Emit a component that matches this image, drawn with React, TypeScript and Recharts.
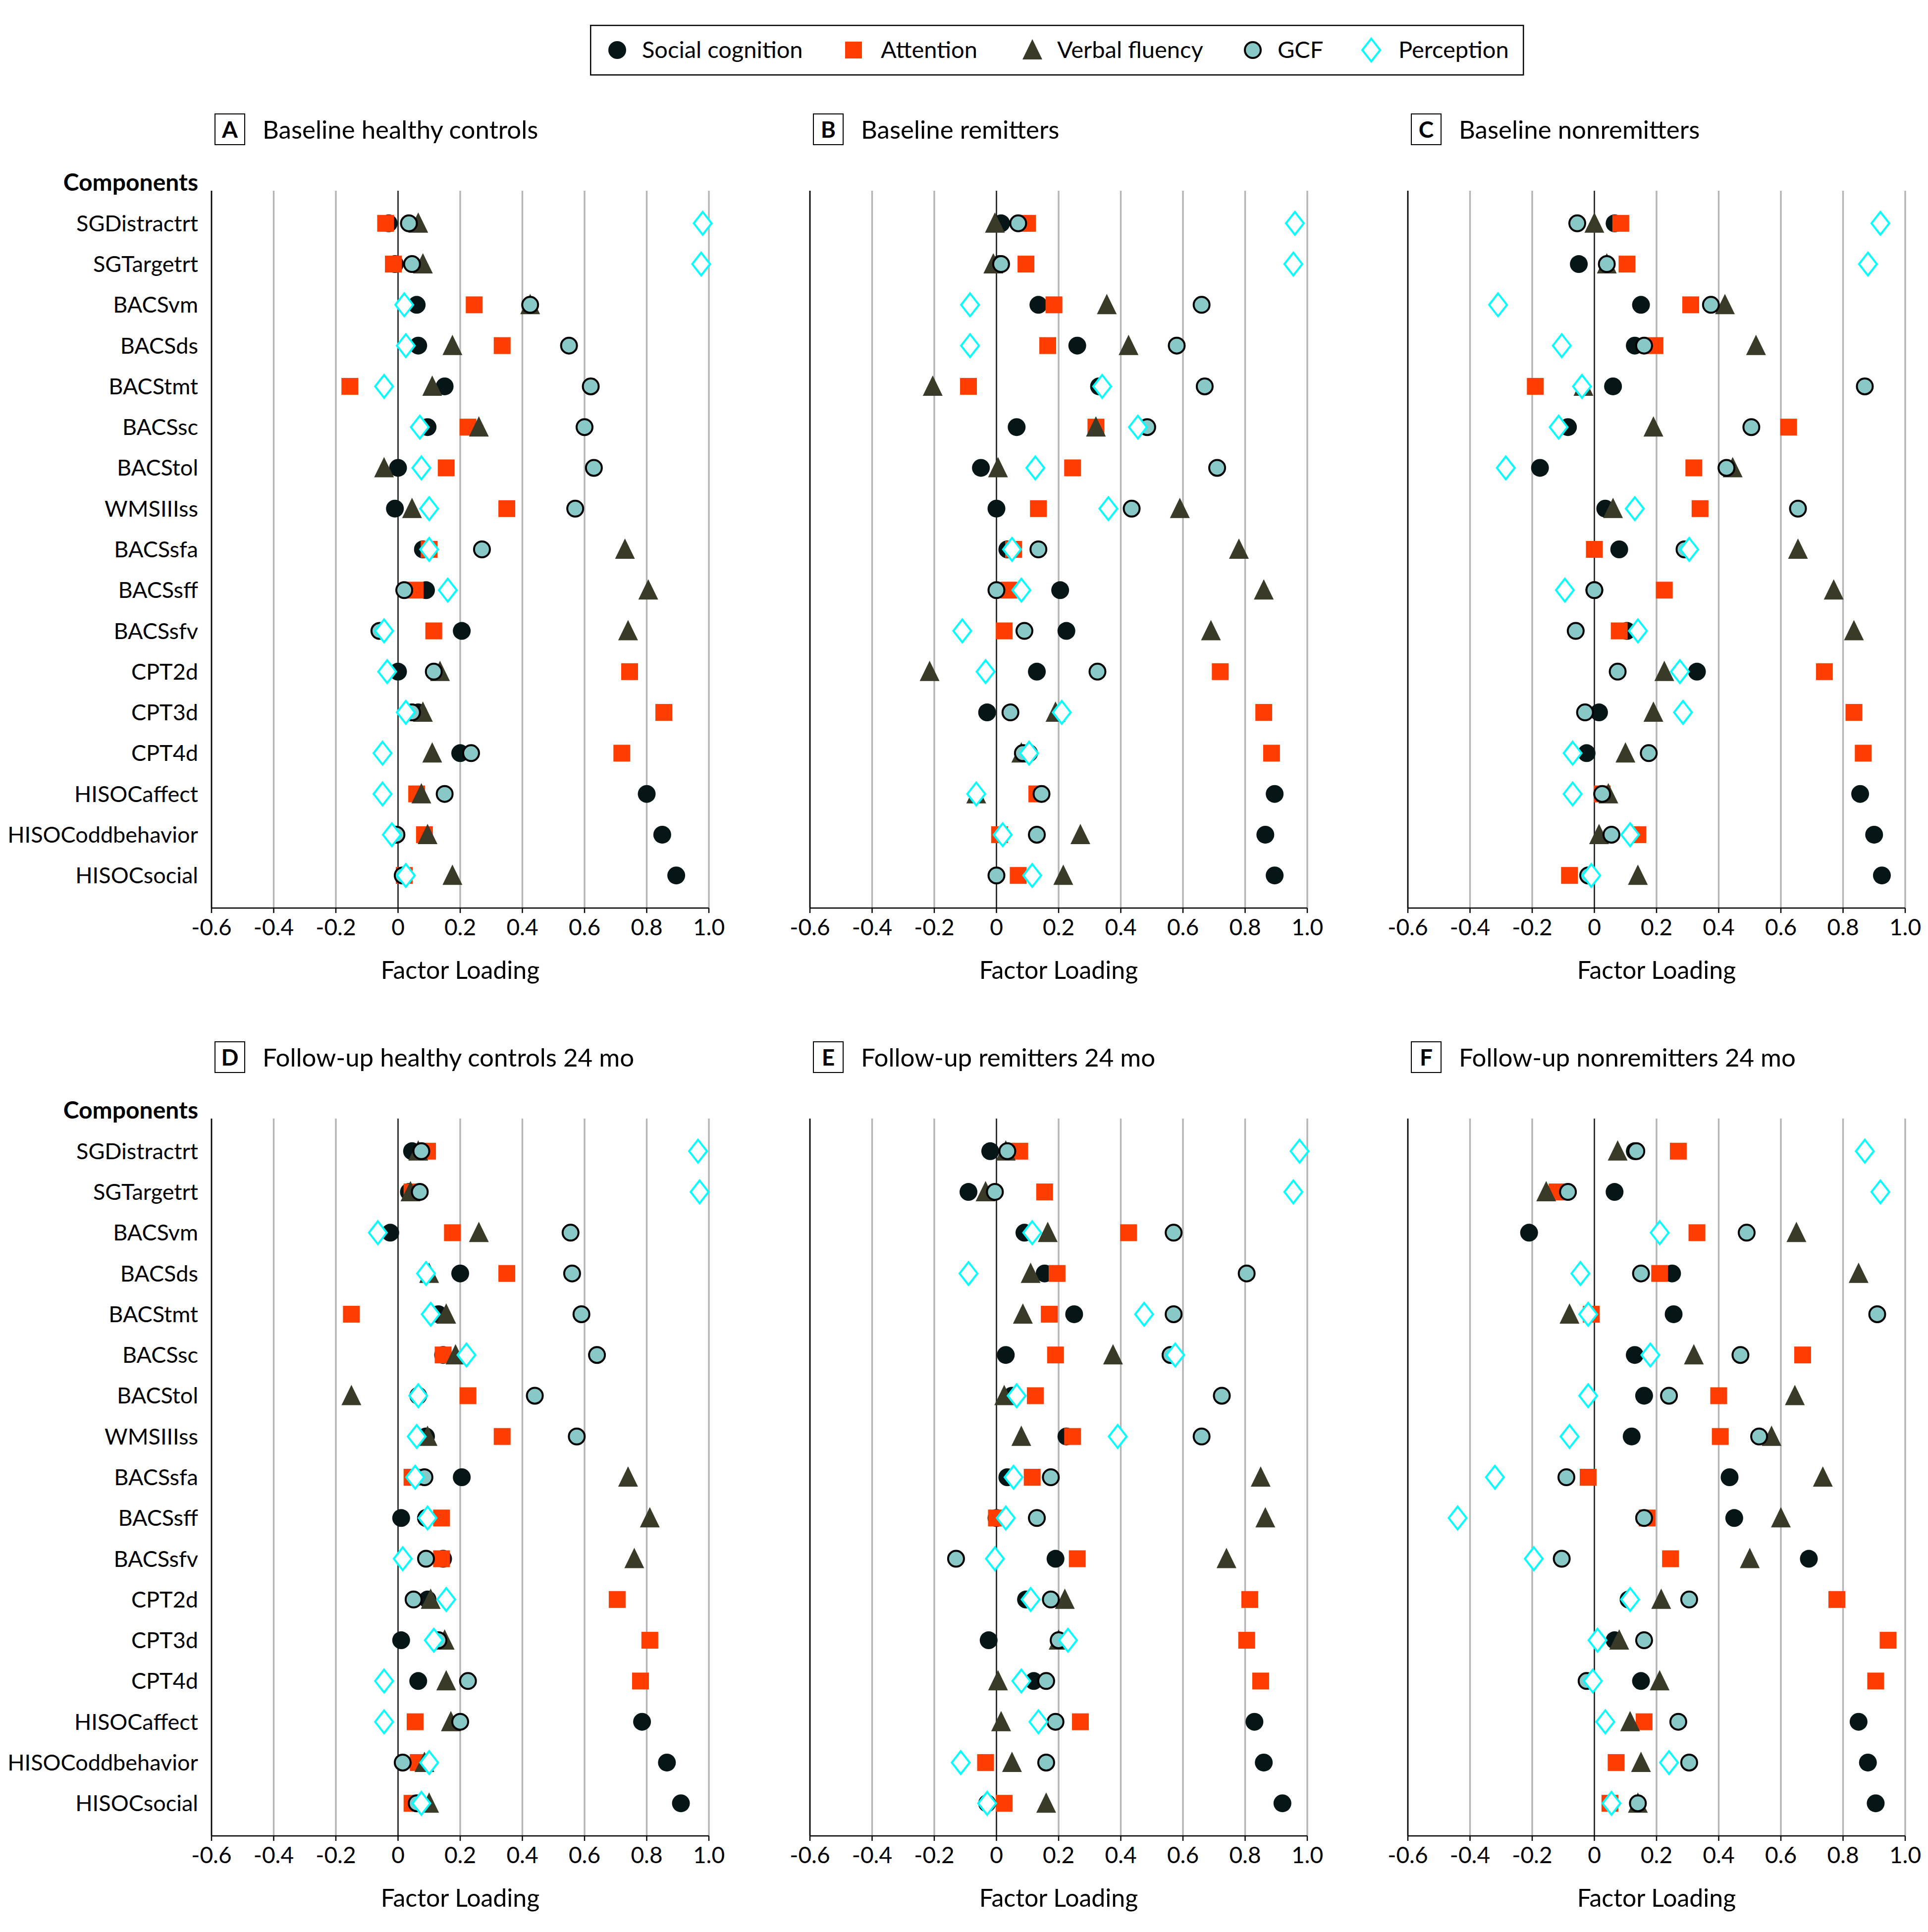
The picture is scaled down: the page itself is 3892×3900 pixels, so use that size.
import React from "react";
import { ScatterChart, Scatter, XAxis, YAxis, CartesianGrid, ReferenceLine } from "recharts";

const COMPONENTS = [
  "SGDistractrt", "SGTargetrt", "BACSvm", "BACSds", "BACStmt", "BACSsc", "BACStol", "WMSIIIss",
  "BACSsfa", "BACSsff", "BACSsfv", "CPT2d", "CPT3d", "CPT4d", "HISOCaffect", "HISOCoddbehavior", "HISOCsocial",
];
const X_TICKS = [-0.6, -0.4, -0.2, 0, 0.2, 0.4, 0.6, 0.8, 1.0];
const Y_TICKS = COMPONENTS.map((_, i) => i);

// A Baseline healthy controls
const A_SOCIAL = [-0.03, -0.01, 0.06, 0.065, 0.15, 0.095, 0.0, -0.01, 0.08, 0.09, 0.205, 0.0, 0.065, 0.2, 0.8, 0.85, 0.895];
const A_ATTENTION = [-0.04, -0.015, 0.245, 0.335, -0.155, 0.225, 0.155, 0.35, 0.1, 0.055, 0.115, 0.745, 0.855, 0.72, 0.06, 0.085, 0.02];
const A_VERBAL = [0.065, 0.08, 0.425, 0.175, 0.11, 0.26, -0.045, 0.045, 0.73, 0.805, 0.74, 0.135, 0.08, 0.11, 0.075, 0.095, 0.175];
const A_GCF = [0.035, 0.045, 0.425, 0.55, 0.62, 0.6, 0.63, 0.57, 0.27, 0.02, -0.06, 0.115, 0.045, 0.235, 0.15, -0.005, 0.015];
const A_PERCEPTION = [0.98, 0.975, 0.02, 0.025, -0.045, 0.07, 0.075, 0.1, 0.1, 0.16, -0.045, -0.035, 0.025, -0.05, -0.05, -0.02, 0.025];

// B Baseline remitters
const B_SOCIAL = [0.015, 0.01, 0.135, 0.26, 0.33, 0.065, -0.05, 0.0, 0.035, 0.205, 0.225, 0.13, -0.03, 0.105, 0.895, 0.865, 0.895];
const B_ATTENTION = [0.1, 0.095, 0.185, 0.165, -0.09, 0.32, 0.245, 0.135, 0.055, 0.04, 0.025, 0.72, 0.86, 0.885, 0.13, 0.01, 0.07];
const B_VERBAL = [-0.005, -0.01, 0.355, 0.425, -0.205, 0.32, 0.005, 0.59, 0.78, 0.86, 0.69, -0.215, 0.19, 0.08, -0.065, 0.27, 0.215];
const B_GCF = [0.07, 0.015, 0.66, 0.58, 0.67, 0.485, 0.71, 0.435, 0.135, 0.0, 0.09, 0.325, 0.045, 0.085, 0.145, 0.13, 0.0];
const B_PERCEPTION = [0.96, 0.955, -0.085, -0.085, 0.34, 0.455, 0.125, 0.36, 0.05, 0.08, -0.11, -0.035, 0.21, 0.105, -0.065, 0.02, 0.115];

// C Baseline nonremitters
const C_SOCIAL = [0.065, -0.05, 0.15, 0.13, 0.06, -0.085, -0.175, 0.035, 0.08, 0.0, 0.105, 0.33, 0.015, -0.025, 0.855, 0.9, 0.925];
const C_ATTENTION = [0.085, 0.105, 0.31, 0.195, -0.19, 0.625, 0.32, 0.34, 0.0, 0.225, 0.08, 0.74, 0.835, 0.865, 0.025, 0.14, -0.08];
const C_VERBAL = [0.0, 0.04, 0.42, 0.52, -0.035, 0.19, 0.445, 0.06, 0.655, 0.77, 0.835, 0.225, 0.19, 0.1, 0.045, 0.015, 0.14];
const C_GCF = [-0.055, 0.04, 0.375, 0.16, 0.87, 0.505, 0.425, 0.655, 0.29, 0.0, -0.06, 0.075, -0.03, 0.175, 0.025, 0.055, -0.02];
const C_PERCEPTION = [0.92, 0.88, -0.31, -0.105, -0.04, -0.115, -0.285, 0.13, 0.305, -0.095, 0.14, 0.275, 0.285, -0.07, -0.07, 0.115, -0.01];

// D Follow-up healthy controls 24 mo
const D_SOCIAL = [0.045, 0.035, -0.025, 0.2, 0.13, 0.145, 0.065, 0.09, 0.205, 0.01, 0.145, 0.095, 0.01, 0.065, 0.785, 0.865, 0.91];
const D_ATTENTION = [0.095, 0.045, 0.175, 0.35, -0.15, 0.145, 0.225, 0.335, 0.045, 0.14, 0.14, 0.705, 0.81, 0.78, 0.055, 0.065, 0.045];
const D_VERBAL = [0.065, 0.04, 0.26, 0.1, 0.155, 0.185, -0.15, 0.095, 0.74, 0.81, 0.76, 0.105, 0.15, 0.155, 0.17, 0.085, 0.1];
const D_GCF = [0.075, 0.07, 0.555, 0.56, 0.59, 0.64, 0.44, 0.575, 0.085, 0.09, 0.09, 0.05, 0.13, 0.225, 0.2, 0.015, 0.06];
const D_PERCEPTION = [0.965, 0.97, -0.065, 0.09, 0.105, 0.22, 0.065, 0.06, 0.055, 0.095, 0.015, 0.155, 0.115, -0.045, -0.045, 0.1, 0.075];

// E Follow-up remitters 24 mo
const E_SOCIAL = [-0.02, -0.09, 0.09, 0.155, 0.25, 0.03, 0.05, 0.225, 0.035, 0.0, 0.19, 0.095, -0.025, 0.12, 0.83, 0.86, 0.92];
const E_ATTENTION = [0.075, 0.155, 0.425, 0.195, 0.17, 0.19, 0.125, 0.245, 0.115, 0.0, 0.26, 0.815, 0.805, 0.85, 0.27, -0.035, 0.025];
const E_VERBAL = [0.03, -0.035, 0.165, 0.11, 0.085, 0.375, 0.025, 0.08, 0.85, 0.865, 0.74, 0.22, 0.2, 0.005, 0.015, 0.05, 0.16];
const E_GCF = [0.035, -0.005, 0.57, 0.805, 0.57, 0.56, 0.725, 0.66, 0.175, 0.13, -0.13, 0.175, 0.2, 0.16, 0.19, 0.16, -0.03];
const E_PERCEPTION = [0.975, 0.955, 0.115, -0.09, 0.475, 0.575, 0.065, 0.39, 0.055, 0.03, -0.005, 0.11, 0.23, 0.08, 0.135, -0.115, -0.03];

// F Follow-up nonremitters 24 mo
const F_SOCIAL = [0.13, 0.065, -0.21, 0.25, 0.255, 0.13, 0.16, 0.12, 0.435, 0.45, 0.69, 0.11, 0.065, 0.15, 0.85, 0.88, 0.905];
const F_ATTENTION = [0.27, -0.12, 0.33, 0.21, -0.01, 0.67, 0.4, 0.405, -0.02, 0.17, 0.245, 0.78, 0.945, 0.905, 0.16, 0.07, 0.05];
const F_VERBAL = [0.075, -0.155, 0.65, 0.85, -0.08, 0.32, 0.645, 0.57, 0.735, 0.6, 0.5, 0.215, 0.08, 0.21, 0.115, 0.15, 0.14];
const F_GCF = [0.135, -0.085, 0.49, 0.15, 0.91, 0.47, 0.24, 0.53, -0.09, 0.16, -0.105, 0.305, 0.16, -0.025, 0.27, 0.305, 0.14];
const F_PERCEPTION = [0.87, 0.92, 0.21, -0.045, -0.02, 0.18, -0.02, -0.08, -0.32, -0.44, -0.195, 0.115, 0.01, -0.005, 0.035, 0.24, 0.055];

const FONT = "Lato, 'Open Sans', sans-serif";
const SOCIAL_COLOR = "#061616";
const ATTENTION_COLOR = "#ff3d00";
const VERBAL_COLOR = "#3a3a28";
const GCF_COLOR = "#88c9c8";
const PERCEPTION_COLOR = "#00ffff";

// plot geometry (px)
const PLOT_W = 1004;
const PLOT_H = 1448;
const XAXIS_H = 140;
const RIGHT_PAD = 60;
const COL_LEFT = [427, 1635, 2842];
const ROW_TOP = [385, 2258];

const SocialDot = ({ cx, cy }: any) => <circle cx={cx} cy={cy} r={18} fill={SOCIAL_COLOR} />;
const AttentionDot = ({ cx, cy }: any) => (
  <rect x={cx - 17} y={cy - 17} width={34} height={34} fill={ATTENTION_COLOR} />
);
const VerbalDot = ({ cx, cy }: any) => (
  <polygon points={`${cx},${cy - 22} ${cx + 20},${cy + 19} ${cx - 20},${cy + 19}`} fill={VERBAL_COLOR} />
);
const GcfDot = ({ cx, cy }: any) => (
  <circle cx={cx} cy={cy} r={16} fill={GCF_COLOR} stroke="#000" strokeWidth={4} />
);
const PerceptionDot = ({ cx, cy }: any) => (
  <polygon
    points={`${cx},${cy - 23} ${cx + 18},${cy} ${cx},${cy + 23} ${cx - 18},${cy}`}
    fill="#fff"
    stroke={PERCEPTION_COLOR}
    strokeWidth={4}
  />
);

const toPoints = (vals: number[]) => vals.map((v, i) => ({ x: v, y: i }));

interface PanelProps {
  letter: string;
  title: string;
  col: number;
  row: number;
  social: number[];
  attention: number[];
  verbal: number[];
  gcf: number[];
  perception: number[];
}

function Panel({ letter, title, col, row, social, attention, verbal, gcf, perception }: PanelProps) {
  const showLabels = col === 0;
  const yw = showLabels ? 420 : 80;
  const plotLeft = COL_LEFT[col];
  const plotTop = ROW_TOP[row];
  const textStyle = { fontFamily: FONT, color: "#000", position: "absolute" as const, whiteSpace: "nowrap" as const };

  return (
    <>
      {/* letter box + title */}
      <div
        style={{
          ...textStyle,
          left: plotLeft + 6,
          top: plotTop - 156,
          width: 58,
          height: 60,
          border: "2.5px solid #000",
          fontSize: 46,
          fontWeight: 700,
          textAlign: "center",
          lineHeight: "60px",
        }}
      >
        {letter}
      </div>
      <div style={{ ...textStyle, left: plotLeft + 103, top: plotTop - 156, height: 64, lineHeight: "64px", fontSize: 51 }}>
        {title}
      </div>
      {showLabels && (
        <div
          style={{
            ...textStyle,
            right: 3892 - (plotLeft - 27),
            top: plotTop - 50,
            height: 64,
            lineHeight: "64px",
            fontSize: 48,
            fontWeight: 700,
          }}
        >
          Components
        </div>
      )}
      <div
        style={{
          ...textStyle,
          left: plotLeft,
          width: PLOT_W,
          textAlign: "center",
          top: plotTop + PLOT_H + 92,
          height: 64,
          lineHeight: "64px",
          fontSize: 50,
        }}
      >
        Factor Loading
      </div>

      <div style={{ position: "absolute", left: plotLeft - yw, top: plotTop }}>
        <ScatterChart
          width={yw + PLOT_W + RIGHT_PAD}
          height={PLOT_H + XAXIS_H}
          margin={{ top: 0, right: RIGHT_PAD, bottom: 0, left: 0 }}
        >
          <CartesianGrid horizontal={false} stroke="#b4b4b4" strokeWidth={3.4} />
          <XAxis
            type="number"
            dataKey="x"
            domain={[-0.6, 1.0]}
            ticks={X_TICKS}
            interval={0}
            height={XAXIS_H}
            axisLine={{ stroke: "#000", strokeWidth: 2.5 }}
            tickLine={{ stroke: "#000", strokeWidth: 2.5 }}
            tickSize={10}
            tickMargin={12}
            tick={{ fontSize: 46, fill: "#000", fontFamily: FONT }}
            tickFormatter={(v: number) => (v === 0 ? "0" : v.toFixed(1))}
          />
          <YAxis
            type="number"
            dataKey="y"
            domain={[-0.8, 16.8]}
            reversed
            ticks={Y_TICKS}
            interval={0}
            width={yw}
            axisLine={{ stroke: "#000", strokeWidth: 2.5 }}
            tickLine={false}
            tickSize={0}
            tickMargin={27}
            tick={showLabels ? { fontSize: 45, fill: "#000", fontFamily: FONT } : false}
            tickFormatter={(i: number) => COMPONENTS[i] ?? ""}
          />
          <ReferenceLine x={0} stroke="#000" strokeWidth={2} />
          <Scatter data={toPoints(social)} shape={SocialDot} isAnimationActive={false} />
          <Scatter data={toPoints(attention)} shape={AttentionDot} isAnimationActive={false} />
          <Scatter data={toPoints(verbal)} shape={VerbalDot} isAnimationActive={false} />
          <Scatter data={toPoints(gcf)} shape={GcfDot} isAnimationActive={false} />
          <Scatter data={toPoints(perception)} shape={PerceptionDot} isAnimationActive={false} />
        </ScatterChart>
      </div>
    </>
  );
}

function Legend() {
  const cy = 51;
  const items = [
    { label: "Social cognition", tx: 105, shape: <circle cx={55} cy={cy} r={18} fill={SOCIAL_COLOR} /> },
    { label: "Attention", tx: 587, shape: <rect x={515} y={cy - 17} width={34} height={34} fill={ATTENTION_COLOR} /> },
    {
      label: "Verbal fluency",
      tx: 943,
      shape: <polygon points={`893,${cy - 22} 913,${cy + 19} 873,${cy + 19}`} fill={VERBAL_COLOR} />,
    },
    { label: "GCF", tx: 1388, shape: <circle cx={1338} cy={cy} r={16} fill={GCF_COLOR} stroke="#000" strokeWidth={4} /> },
    {
      label: "Perception",
      tx: 1632,
      shape: (
        <polygon
          points={`1577,${cy - 23} 1595,${cy} 1577,${cy + 23} 1559,${cy}`}
          fill="#fff"
          stroke={PERCEPTION_COLOR}
          strokeWidth={4}
        />
      ),
    },
  ];
  return (
    <svg style={{ position: "absolute", left: 1191, top: 50 }} width={1886} height={103}>
      <rect x={1.25} y={1.25} width={1883} height={100} fill="#fff" stroke="#000" strokeWidth={2.5} />
      {items.map((it) => (
        <g key={it.label}>
          {it.shape}
          <text x={it.tx} y={cy} dy="0.35em" fontSize={47} fontFamily={FONT} fill="#000">
            {it.label}
          </text>
        </g>
      ))}
    </svg>
  );
}

export default function App() {
  return (
    <div style={{ position: "absolute", left: 0, top: 0, width: 3892, height: 3900, background: "#fff" }}>
      <style>{"body{margin:0}"}</style>
      <Legend />
      <Panel letter="A" title="Baseline healthy controls" col={0} row={0}
        social={A_SOCIAL} attention={A_ATTENTION} verbal={A_VERBAL} gcf={A_GCF} perception={A_PERCEPTION} />
      <Panel letter="B" title="Baseline remitters" col={1} row={0}
        social={B_SOCIAL} attention={B_ATTENTION} verbal={B_VERBAL} gcf={B_GCF} perception={B_PERCEPTION} />
      <Panel letter="C" title="Baseline nonremitters" col={2} row={0}
        social={C_SOCIAL} attention={C_ATTENTION} verbal={C_VERBAL} gcf={C_GCF} perception={C_PERCEPTION} />
      <Panel letter="D" title="Follow-up healthy controls 24 mo" col={0} row={1}
        social={D_SOCIAL} attention={D_ATTENTION} verbal={D_VERBAL} gcf={D_GCF} perception={D_PERCEPTION} />
      <Panel letter="E" title="Follow-up remitters 24 mo" col={1} row={1}
        social={E_SOCIAL} attention={E_ATTENTION} verbal={E_VERBAL} gcf={E_GCF} perception={E_PERCEPTION} />
      <Panel letter="F" title="Follow-up nonremitters 24 mo" col={2} row={1}
        social={F_SOCIAL} attention={F_ATTENTION} verbal={F_VERBAL} gcf={F_GCF} perception={F_PERCEPTION} />
    </div>
  );
}
